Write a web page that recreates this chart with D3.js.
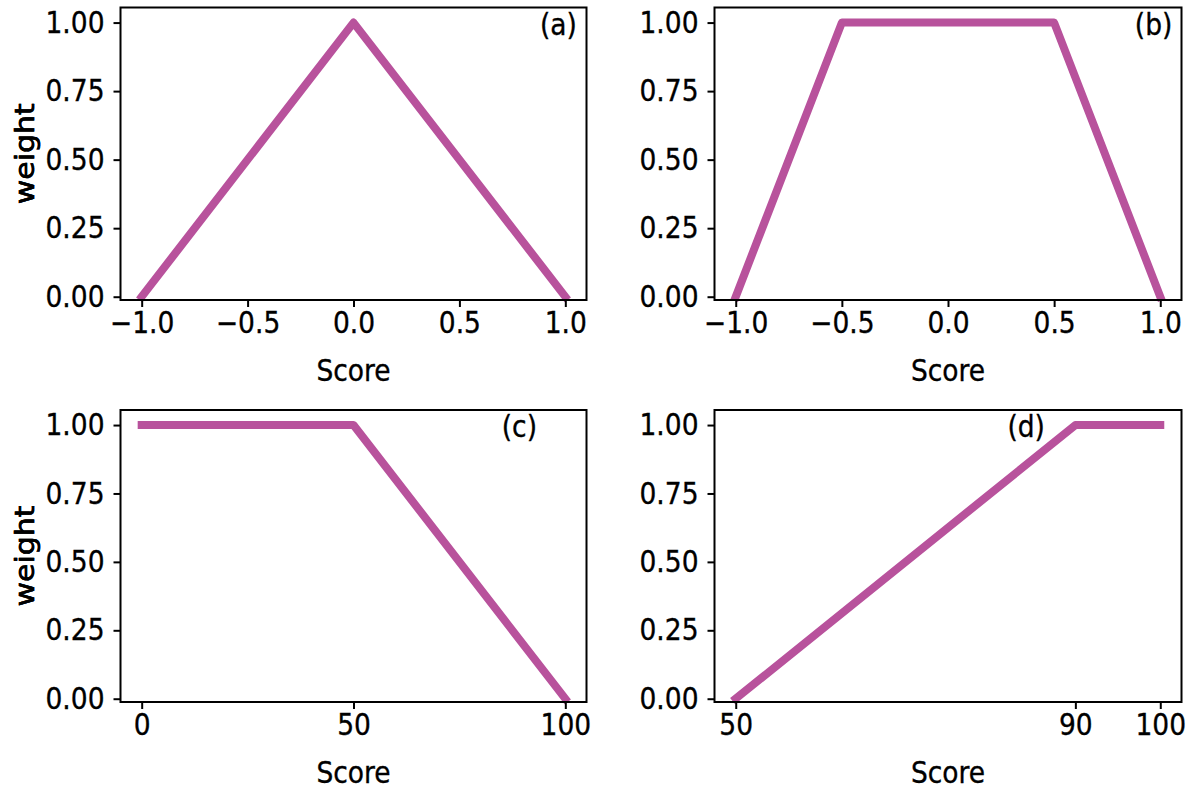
<!DOCTYPE html>
<html>

<head>
    <meta charset="UTF-8">
    <style>
        body {
            margin: 0;
            background-color: #fff;
        }

        #chart text {
            font-family: "DejaVu Sans", sans-serif;
            fill: #000;
            stroke: #000;
            stroke-width: 0.35px;
        }
    </style>
    <title>Weight functions</title>
</head>

<body>
    <svg id="chart" width="1190" height="789"></svg>

    <script src="https://cdn.jsdelivr.net/npm/d3@7"></script>
    <script>
        // data for each panel
        const panelNames = ["(a)", "(b)", "(c)", "(d)"];
        const scoresA = [-1, 0, 1];
        const weightsA = [0, 1, 0];
        const scoresB = [-1, -0.5, 0.5, 1];
        const weightsB = [0, 1, 1, 0];
        const scoresC = [0, 50, 100];
        const weightsC = [1, 1, 0];
        const scoresD = [50, 90, 100];
        const weightsD = [0, 1, 1];

        const xTicksA = [-1.0, -0.5, 0.0, 0.5, 1.0];
        const xTicksB = [-1.0, -0.5, 0.0, 0.5, 1.0];
        const xTicksC = [0, 50, 100];
        const xTicksD = [50, 90, 100];
        const yTicks = [0, 0.25, 0.5, 0.75, 1.0];

        // where the (a)..(d) tags sit, in data units
        const labelX = [0.88, 0.88, 85, 82];
        const labelY = [0.955, 0.955, 0.955, 0.955];

        const lineColor = "#b8529c";
        // the source figure is stretched vertically, so glyphs are taller than wide
        const fontW = 26.5, fontH = 30;

        const panels = [
            { xs: scoresA, ys: weightsA, ticks: xTicksA, dom: [-1.1, 1.1], fmt: d3.format(".1f") },
            { xs: scoresB, ys: weightsB, ticks: xTicksB, dom: [-1.1, 1.1], fmt: d3.format(".1f") },
            { xs: scoresC, ys: weightsC, ticks: xTicksC, dom: [-5, 105], fmt: d3.format("d") },
            { xs: scoresD, ys: weightsD, ticks: xTicksD, dom: [47.5, 102.5], fmt: d3.format("d") },
        ];

        // plot boxes (left, top, width, height)
        const boxes = [
            [120.5, 7.5, 466, 292.5],
            [714.5, 7.5, 467, 292.5],
            [120.5, 410, 466, 292],
            [714.5, 410, 467, 292],
        ];

        // measure at one size, draw at another, squeeze the glyphs to the measured length
        function stretchText(sel, measureSize, drawSize) {
            sel.each(function () {
                const t = d3.select(this);
                t.style("font-size", measureSize + "px");
                const len = this.getComputedTextLength();
                t.style("font-size", drawSize + "px")
                    .attr("textLength", len)
                    .attr("lengthAdjust", "spacingAndGlyphs");
            });
        }

        const svg = d3.select("#chart");
        svg.append("rect").attr("width", 1190).attr("height", 789).attr("fill", "#fff");

        panels.forEach((p, i) => {
            const [left, top, w, h] = boxes[i];
            const g = svg.append("g").attr("transform", `translate(${left},${top})`);

            const x = d3.scaleLinear().domain(p.dom).range([0, w]);
            const y = d3.scaleLinear().domain([-0.012, 1.055]).range([h, 0]);

            const pts = p.xs.map((v, k) => [v, p.ys[k]]);
            const line = d3.line().x(d => x(d[0])).y(d => y(d[1]));

            g.append("path")
                .attr("d", line(pts))
                .attr("fill", "none")
                .attr("stroke", lineColor)
                .attr("stroke-width", 8)
                .attr("stroke-linecap", "square")
                .attr("stroke-linejoin", "round");

            // x axis
            const gx = g.append("g")
                .attr("transform", `translate(0,${h})`)
                .call(d3.axisBottom(x).tickValues(p.ticks).tickFormat(p.fmt)
                    .tickSize(7).tickPadding(5));
            gx.selectAll("text").text(d => p.fmt(d).replace("-", "\u2212"));
            stretchText(gx.selectAll("text"), fontW, fontH);

            // y axis
            const gy = g.append("g")
                .call(d3.axisLeft(y).tickValues(yTicks).tickFormat(d3.format(".2f"))
                    .tickSize(7).tickPadding(9));
            stretchText(gy.selectAll("text"), fontW, fontH);

            [gx, gy].forEach(a => {
                a.select(".domain").remove();
                a.selectAll("line").attr("stroke", "#000").attr("stroke-width", 2);
            });

            // frame
            g.append("rect")
                .attr("width", w).attr("height", h)
                .attr("fill", "none")
                .attr("stroke", "#000")
                .attr("stroke-width", 2);

            // axis titles
            const xt = g.append("text")
                .attr("x", w / 2)
                .attr("y", h + 81)
                .attr("text-anchor", "middle")
                .text("Score");
            stretchText(xt, fontW, fontH);

            // rotated: the long side runs up the page, so stretch it the other way
            const yt = g.append("text")
                .attr("transform", `translate(${34 - left},${h / 2}) rotate(-90)`)
                .attr("text-anchor", "middle")
                .text("weight");
            stretchText(yt, fontH, fontW - 0.5);

            // panel tag
            const tag = g.append("text")
                .attr("x", x(labelX[i]))
                .attr("y", y(labelY[i]))
                .text(panelNames[i]);
            stretchText(tag, fontW, fontH);
        });
    </script>
</body>

</html>
